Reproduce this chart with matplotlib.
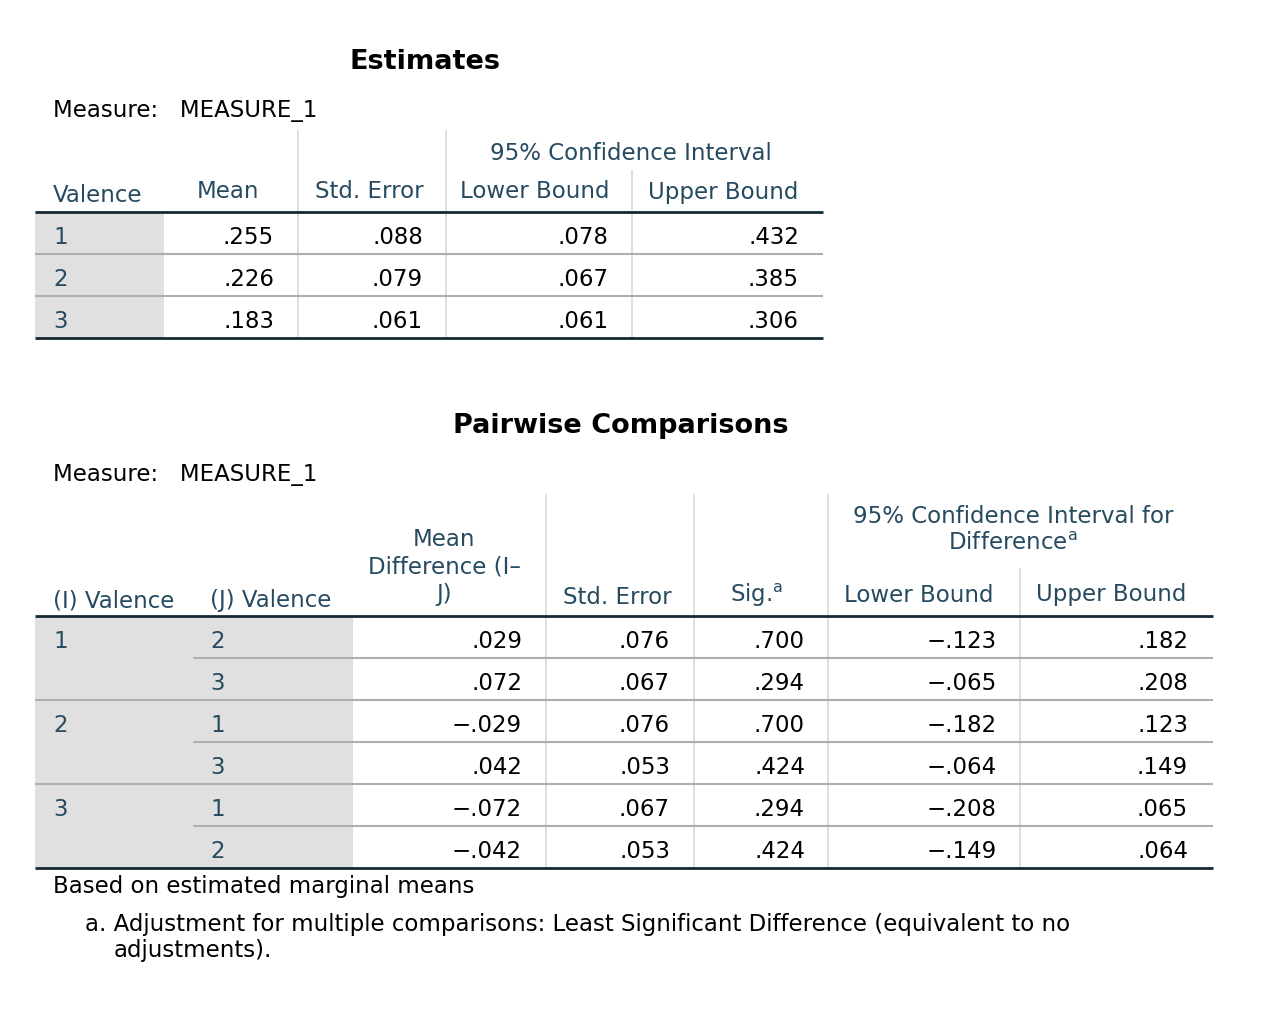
import matplotlib
matplotlib.use("Agg")
import matplotlib.pyplot as plt

# Estimates table
est_valence = ["1", "2", "3"]
est_mean = [0.255, 0.226, 0.183]
est_se = [0.088, 0.079, 0.061]
est_lower = [0.078, 0.067, 0.061]
est_upper = [0.432, 0.385, 0.306]

# Pairwise comparisons table
pw_i = ["1", "", "2", "", "3", ""]
pw_j = ["2", "3", "1", "3", "1", "2"]
pw_diff = [0.029, 0.072, -0.029, 0.042, -0.072, -0.042]
pw_se = [0.076, 0.067, 0.076, 0.053, 0.067, 0.053]
pw_sig = [0.700, 0.294, 0.700, 0.424, 0.294, 0.424]
pw_lower = [-0.123, -0.065, -0.182, -0.064, -0.208, -0.149]
pw_upper = [0.182, 0.208, 0.123, 0.149, 0.065, 0.064]

HEAD = "#264a60"
DARK = "#152935"
SEP = "#aeaeae"
VLINE = "#dcdcdc"
SHADE = "#e0e0e0"
FS = 16.5
TITLE_FS = 19.5

plt.rcParams["font.family"] = ["DejaVu Sans"]
plt.rcParams["mathtext.fontset"] = "dejavusans"


def fmt(v):
    s = f"{abs(v):.3f}".lstrip("0")
    return ("\u2212" + s) if v < 0 else s


fig = plt.figure(figsize=(12.68, 10.16), dpi=100)
ax = fig.add_axes([0, 0, 1, 1])
ax.set_xlim(0, 1268)
ax.set_ylim(1016, 0)
ax.axis("off")


def hline(y, x0, x1, color, lw):
    ax.plot([x0, x1], [y, y], color=color, lw=lw, solid_capstyle="butt")


def vline(x, y0, y1):
    ax.plot([x, x], [y0, y1], color=VLINE, lw=1.3, solid_capstyle="butt")


# ---------- Estimates ----------
ax.text(425, 62, "Estimates", fontsize=TITLE_FS, fontweight="bold", ha="center", va="center")
ax.text(53, 111, "Measure:   MEASURE_1", fontsize=FS, va="center")

ax.add_patch(plt.Rectangle((35, 213), 129, 125, color=SHADE, lw=0))
vline(298, 130, 338)
vline(446, 130, 338)
vline(632, 170, 338)

ax.text(631, 153, "95% Confidence Interval", fontsize=FS, color=HEAD, ha="center", va="center")
ax.text(53, 196, "Valence", fontsize=FS, color=HEAD, va="center")
est_heads = ["Mean", "Std. Error", "Lower Bound", "Upper Bound"]
est_head_x = [228, 369, 535, 723]
for h, x in zip(est_heads, est_head_x):
    ax.text(x, 192, h, fontsize=FS, color=HEAD, ha="center", va="center")

hline(212, 35, 823, DARK, 2)
est_right = [274, 423, 609, 799]
for r, lab in enumerate(est_valence):
    y = 236 + 42 * r
    ax.text(53, y + 1, lab, fontsize=FS, color=HEAD, va="center")
    vals = [est_mean[r], est_se[r], est_lower[r], est_upper[r]]
    for x, v in zip(est_right, vals):
        ax.text(x, y + 1, fmt(v), fontsize=FS, ha="right", va="center")
    if r < len(est_valence) - 1:
        hline(y + 18, 35, 823, SEP, 1.5)
hline(338, 35, 823, DARK, 2)

# ---------- Pairwise Comparisons ----------
ax.text(621, 426, "Pairwise Comparisons", fontsize=TITLE_FS, fontweight="bold", ha="center", va="center")
ax.text(53, 475, "Measure:   MEASURE_1", fontsize=FS, va="center")

ax.add_patch(plt.Rectangle((35, 617), 318, 251, color=SHADE, lw=0))
vline(546, 494, 868)
vline(694, 494, 868)
vline(828, 494, 868)
vline(1020, 568, 868)

ax.text(1013, 530, "95% Confidence Interval for\nDifference$^{\\mathrm{a}}$", fontsize=FS,
        color=HEAD, ha="center", va="center", linespacing=1.25)
ax.text(444, 567, "Mean\nDifference (I\u2013\nJ)", fontsize=FS, color=HEAD,
        ha="center", va="center", linespacing=1.25)
ax.text(53, 601, "(I) Valence", fontsize=FS, color=HEAD, va="center")
ax.text(210, 601, "(J) Valence", fontsize=FS, color=HEAD, va="center")
ax.text(617, 597, "Std. Error", fontsize=FS, color=HEAD, ha="center", va="center")
ax.text(757, 595, "Sig.$^{\\mathrm{a}}$", fontsize=FS, color=HEAD, ha="center", va="center")
ax.text(919, 595, "Lower Bound", fontsize=FS, color=HEAD, ha="center", va="center")
ax.text(1111, 595, "Upper Bound", fontsize=FS, color=HEAD, ha="center", va="center")

hline(616, 35, 1213, DARK, 2)
pw_right = [522, 670, 805, 997, 1188]
for r in range(len(pw_j)):
    y = 640 + 42 * r
    ax.text(53, y + 1, pw_i[r], fontsize=FS, color=HEAD, va="center")
    ax.text(210, y + 1, pw_j[r], fontsize=FS, color=HEAD, va="center")
    vals = [pw_diff[r], pw_se[r], pw_sig[r], pw_lower[r], pw_upper[r]]
    for x, v in zip(pw_right, vals):
        ax.text(x, y + 1, fmt(v), fontsize=FS, ha="right", va="center")
    if r < len(pw_j) - 1:
        x0 = 35 if pw_i[r + 1] else 193
        hline(y + 18, x0, 1213, SEP, 1.5)
hline(868, 35, 1213, DARK, 2)

ax.text(53, 887, "Based on estimated marginal means", fontsize=FS, va="center")
ax.text(85, 925, "a. Adjustment for multiple comparisons: Least Significant Difference (equivalent to no",
        fontsize=FS, va="center")
ax.text(114, 951, "adjustments).", fontsize=FS, va="center")

fig.savefig("out.png", dpi=100)
